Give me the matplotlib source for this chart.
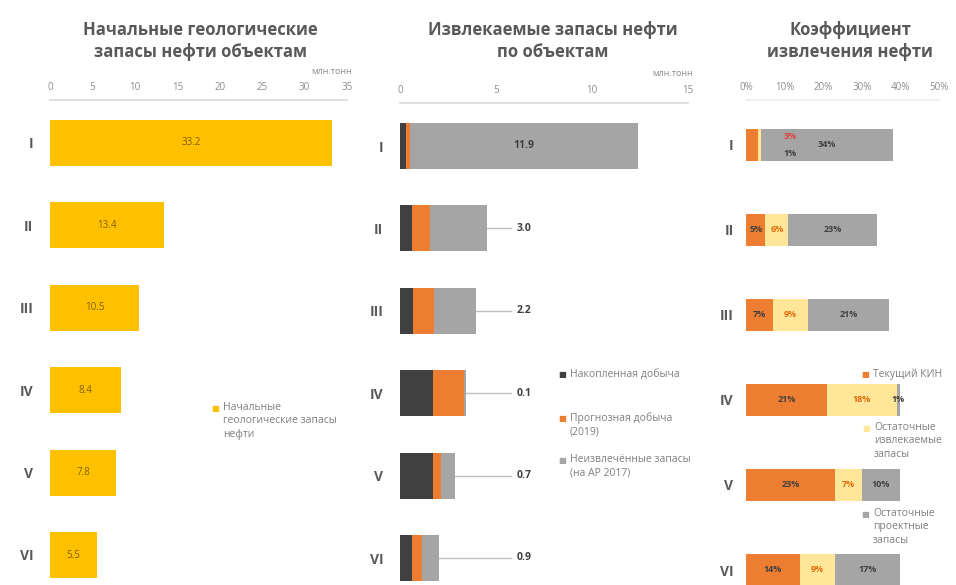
import matplotlib.pyplot as plt
import numpy as np

plt.rcParams['font.family'] = ['Open Sans', 'DejaVu Sans']

objects = ['I', 'II', 'III', 'IV', 'V', 'VI']

# initial geological reserves, mln t
geo_reserves = [33.2, 13.4, 10.5, 8.4, 7.8, 5.5]

# recoverable reserves, mln t
cum_prod = [0.3, 0.6, 0.7, 1.7, 1.7, 0.6]
forecast_prod = [0.2, 0.95, 1.05, 1.65, 0.45, 0.55]
unrecovered = [11.9, 3.0, 2.2, 0.1, 0.7, 0.9]

# oil recovery factor, %
kin_current = [3, 5, 7, 21, 23, 14]
kin_recoverable = [1, 6, 9, 18, 7, 9]
kin_project = [34, 23, 21, 1, 10, 17]

c_gold = '#FFC000'
c_dark = '#404040'
c_orange = '#ED7D31'
c_gray = '#A5A5A5'
c_light = '#FFE699'
c_title = '#595959'
c_tick = '#8C8C8C'
c_legend = '#7F7F7F'

W, H = 956, 585
fig = plt.figure(figsize=(W / 100, H / 100), dpi=100)


def px(x, y):
    return x / W, 1 - y / H


def add_panel(left, right, top, first_row, row_step, xmax, xticks, xlabels, ypad):
    ax = fig.add_axes([left / W, 0, (right - left) / W, (H - top) / H])
    span = (H - top) / row_step
    lo = -(first_row - top) / row_step
    ax.set_ylim(lo + span, lo)
    ax.set_xlim(0, xmax)
    ax.xaxis.tick_top()
    ax.set_xticks(xticks)
    ax.set_xticklabels(xlabels)
    ax.tick_params(axis='x', length=0, labelsize=7, labelcolor=c_tick, pad=5)
    ax.set_yticks(range(len(objects)))
    ax.set_yticklabels(objects, fontweight='bold', fontsize=10, color=c_title)
    ax.tick_params(axis='y', length=0, pad=ypad)
    for s in ['left', 'right', 'bottom']:
        ax.spines[s].set_visible(False)
    ax.spines['top'].set_color('#D9D9D9')
    ax.spines['top'].set_linewidth(1.2)
    ax.patch.set_alpha(0)
    return ax


def legend_entry(x, y, color, text):
    fig.text(*px(x, y), '■', color=color, fontsize=6, ha='center', va='center',
             family=['DejaVu Sans'])
    fig.text(*px(x + 8, y - 6), text, color=c_legend, fontsize=7.5, ha='left', va='top',
             linespacing=1.3)


y = np.arange(len(objects))

# --- initial geological reserves
ax1 = add_panel(50, 347, 100, 143, 82.4, 35, range(0, 36, 5),
                [str(v) for v in range(0, 36, 5)], 12)
ax1.barh(y, geo_reserves, height=0.56, color=c_gold)
for i, v in enumerate(geo_reserves):
    ax1.text(v / 2, i, f'{v:.1f}', ha='center', va='center', fontsize=7, color='#7F6000')
fig.text(*px(200, 41), 'Начальные геологические\nзапасы нефти объектам', ha='center',
         va='center', fontsize=12, fontweight='bold', color=c_title, linespacing=1.25)
fig.text(*px(352, 71), 'млн.тонн', ha='right', va='center', fontsize=6.5, color=c_tick)
legend_entry(215, 408, c_gold, 'Начальные\nгеологические запасы\nнефти')

# --- recoverable reserves
ax2 = add_panel(400, 688, 103, 146, 82.4, 15, [0, 5, 10, 15], ['0', '5', '10', '15'], 12)
left = np.zeros(len(objects))
for vals, col in [(cum_prod, c_dark), (forecast_prod, c_orange), (unrecovered, c_gray)]:
    ax2.barh(y, vals, left=left, height=0.56, color=col)
    left += np.array(vals)
for i, v in enumerate(unrecovered):
    if i == 0:
        ax2.text(left[i] - v / 2, i, f'{v:.1f}', ha='center', va='center', fontsize=7.5,
                 fontweight='bold', color=c_dark)
    else:
        ax2.plot([left[i], 5.8], [i, i], color='#BFBFBF', lw=1)
        ax2.text(6.1, i, f'{v:.1f}', ha='left', va='center', fontsize=7.5,
                 fontweight='bold', color=c_dark)
fig.text(*px(553, 41), 'Извлекаемые запасы нефти\nпо объектам', ha='center',
         va='center', fontsize=12, fontweight='bold', color=c_title, linespacing=1.25)
fig.text(*px(693, 73), 'млн.тонн', ha='right', va='center', fontsize=6.5, color=c_tick)
legend_entry(562, 375, c_dark, 'Накопленная добыча')
legend_entry(562, 418, c_orange, 'Прогнозная добыча\n(2019)')
legend_entry(562, 460, c_gray, 'Неизвлечённые запасы\n(на АР 2017)')

# --- recovery factor
ax3 = add_panel(746, 939, 100, 145, 85, 50, range(0, 51, 10),
                [f'{v}%' for v in range(0, 51, 10)], 9)
ax3.spines['top'].set_color('#EDEDED')
left = np.zeros(len(objects))
label_colors = [c_dark, '#E46C0A', c_dark]
for k, (vals, col) in enumerate([(kin_current, c_orange), (kin_recoverable, c_light),
                                 (kin_project, c_gray)]):
    ax3.barh(y, vals, left=left, height=0.38, color=col)
    for i, v in enumerate(vals):
        cx = left[i] + v / 2
        if i == 0 and k == 0:
            ax3.text(11.4, i - 0.1, f'{v}%', ha='center', va='center', fontsize=6.5,
                     fontweight='bold', color='#E0403A')
        elif i == 0 and k == 1:
            ax3.text(11.4, i + 0.1, f'{v}%', ha='center', va='center', fontsize=6.5,
                     fontweight='bold', color=c_dark)
        else:
            ax3.text(cx, i, f'{v}%', ha='center', va='center', fontsize=6.5,
                     fontweight='bold', color=label_colors[k])
    left += np.array(vals)
fig.text(*px(850, 41), 'Коэффициент\nизвлечения нефти', ha='center',
         va='center', fontsize=12, fontweight='bold', color=c_title, linespacing=1.25)
legend_entry(865, 375, c_orange, 'Текущий КИН')
legend_entry(866, 428, c_light, 'Остаточные\nизвлекаемые\nзапасы')
legend_entry(865, 514, c_gray, 'Остаточные\nпроектные\nзапасы')

fig.savefig('out.png', dpi=100)
